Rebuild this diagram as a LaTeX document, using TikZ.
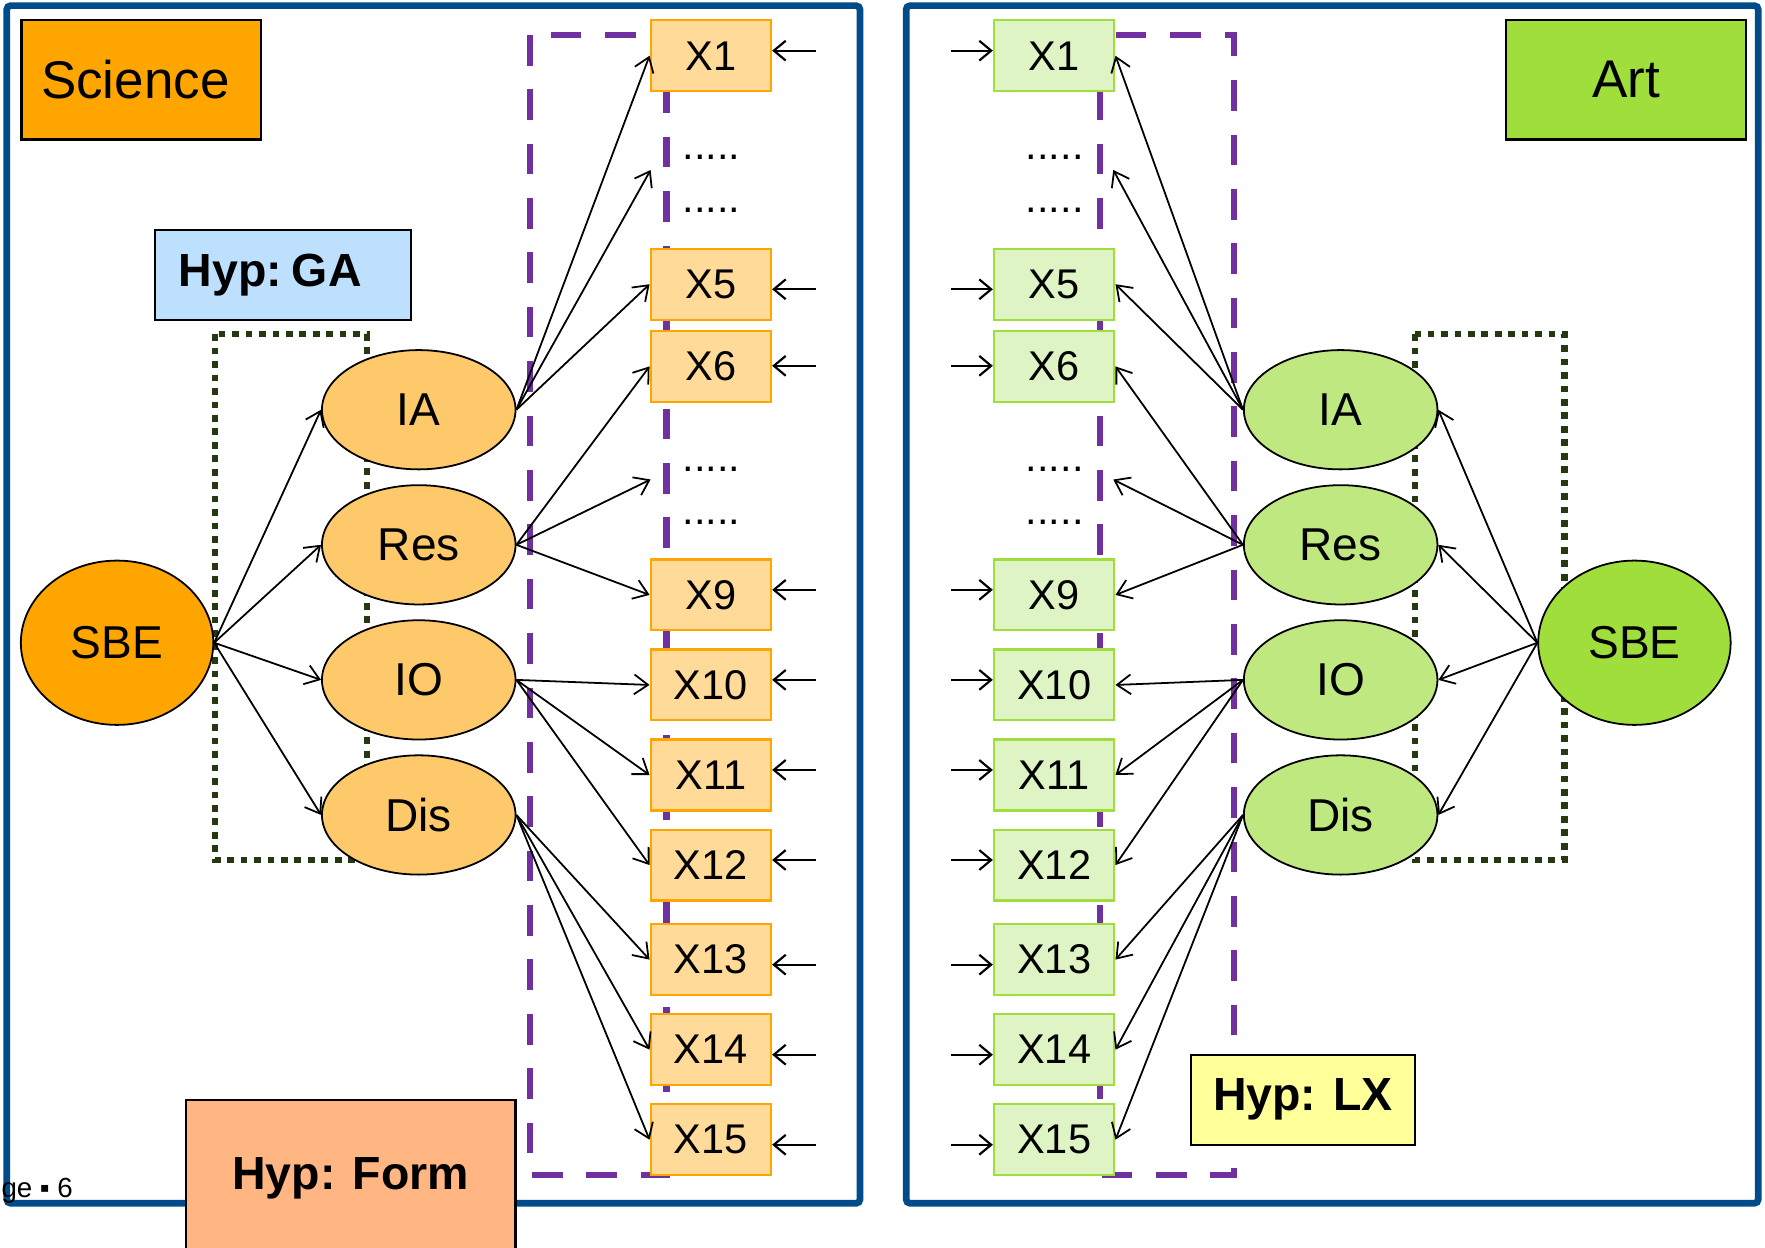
\documentclass[tikz,border=0pt]{standalone}
\usepackage{fontspec}
\setmainfont{Liberation Sans}
\usetikzlibrary{shapes.geometric,arrows.meta}
\definecolor{frameblue}{RGB}{0,76,138}
\definecolor{purp}{RGB}{112,48,160}
\definecolor{dgreen}{RGB}{38,56,18}
\definecolor{sciorange}{RGB}{255,165,0}
\definecolor{lorange}{RGB}{253,201,106}
\definecolor{xorange}{RGB}{255,218,152}
\definecolor{artgreen}{RGB}{160,222,60}
\definecolor{lgreen}{RGB}{192,232,128}
\definecolor{xgreen}{RGB}{222,244,196}
\definecolor{hypblue}{RGB}{189,224,254}
\definecolor{hypform}{RGB}{255,182,130}
\definecolor{hypyellow}{RGB}{255,255,153}
\newcommand\fsz[1]{\fontsize{#1}{#1}\selectfont}
\begin{document}
\begin{tikzpicture}[x=0.02cm,y=-0.02cm,
  frame/.style={draw=frameblue,line width=3.4pt,rounded corners=2pt},
  purpbox/.style={draw=purp,line width=3.2pt,dash pattern=on 15.5pt off 12pt},
  gdotbox/.style={draw=dgreen,line width=3.2pt,dash pattern=on 3.4pt off 3.4pt},
  ell/.style={ellipse,draw=black,line width=0.9pt,inner sep=0pt,minimum width=3.44cm,minimum height=2.12cm,font=\fsz{23.3}},
  bigell/.style={ellipse,draw=black,line width=0.9pt,inner sep=0pt,minimum width=3.42cm,minimum height=2.92cm,font=\fsz{23.3}},
  xbox/.style={rectangle,line width=1.1pt,inner sep=0pt,minimum width=2.14cm,minimum height=1.26cm,font=\fsz{21}},
  titlebox/.style={rectangle,draw=black,line width=1.2pt,inner sep=0pt,minimum width=4.26cm,minimum height=2.12cm,font=\fsz{26.8}},
  hypbox/.style={rectangle,draw=black,line width=1.1pt,inner sep=0pt,font=\fsz{23.5}\bfseries},
  conn/.style={line width=0.9pt,-{Straight Barb[length=7pt,width=10pt,line width=0.9pt]}},
  err/.style={line width=1.1pt,-{Straight Barb[length=6pt,width=10pt,line width=1.1pt]}},
  dots/.style={font=\fsz{21},anchor=base,inner sep=0pt}]
\useasboundingbox (0,0) rectangle (1568,1108);
\clip (0,0) rectangle (1568,1108);
\fill[white] (0,0) rectangle (1568,1108);
% frames
\draw[frame] (6,5) rectangle (764,1069);
\draw[frame] (805,5) rectangle (1562,1069);
% dashed / dotted groups
\draw[purpbox] (471,31) rectangle (592,1044);
\draw[purpbox] (977,31) rectangle (1096,1044);
\draw[gdotbox] (191,297) rectangle (326,764);
\draw[gdotbox] (1257,297) rectangle (1390,764);
% title boxes
\node[titlebox,fill=sciorange] (sci) at (125.5,71) {Science\kern6pt};
\node[titlebox,fill=artgreen] (art) at (1444.5,71) {Art};
\node[hypbox,fill=hypblue,minimum width=4.54cm,minimum height=1.6cm] (hga) at (251.5,244) {Hyp:\kern5pt GA\kern13pt};
\node[hypbox,fill=hypyellow,minimum width=3.98cm,minimum height=1.6cm] (hlx) at (1157.5,977) {Hyp: LX};
\node[hypbox,fill=hypform,minimum width=5.86cm,minimum height=2.8cm] (hform) at (311.5,1047) {Hyp: Form};
\node[font=\fsz{14},anchor=base west,inner sep=0pt] (page) at (1,1064) {ge ▪ 6};
% left ellipses
\node[bigell,fill=sciorange] (LSBE) at (104,571) {SBE};
\node[ell,fill=lorange] (LIA) at (372,364) {IA};
\node[ell,fill=lorange] (LRes) at (372,484) {Res};
\node[ell,fill=lorange] (LIO) at (372,604) {IO};
\node[ell,fill=lorange] (LDis) at (372,724) {Dis};
% right ellipses
\node[bigell,fill=artgreen] (RSBE) at (1452,571) {SBE};
\node[ell,fill=lgreen] (RIA) at (1191,364) {IA};
\node[ell,fill=lgreen] (RRes) at (1191,484) {Res};
\node[ell,fill=lgreen] (RIO) at (1191,604) {IO};
\node[ell,fill=lgreen] (RDis) at (1191,724) {Dis};
% indicator boxes and error arrows
\foreach \n/\y/\e in {1/49.5/45,5/252.5/257,6/325.5/325,9/528.5/524,10/608.5/604,11/688.5/684,12/768.5/764,13/852.5/857,14/932.5/937,15/1012.5/1017}{
  \node[xbox,draw=sciorange,fill=xorange] (LX\n) at (631.5,\y) {X\n};
  \node[xbox,draw=artgreen,fill=xgreen] (RX\n) at (936.5,\y) {X\n};
  \coordinate (LE\n) at (725,\e);
  \coordinate (RE\n) at (845,\e);
  \draw[err] (LE\n) -- (LX\n.east |- LE\n);
  \draw[err] (RE\n) -- (RX\n.west |- RE\n);
}
% dots
\foreach \k/\x/\y in {a/632/142,b/632/189,c/632/419,d/632/466,e/937/142,f/937/189,g/937/419,h/937/466}{
  \node[dots] (dot\k) at (\x,\y) {.....};
}
\coordinate (LD1) at (578,151);
\coordinate (LD2) at (578,426);
\coordinate (RD1) at (989,151);
\coordinate (RD2) at (989,426);
% left connectors
\foreach \t in {LIA,LRes,LIO,LDis}{ \draw[conn] (LSBE.east) -- (\t.west); }
\draw[conn] (LIA.east) -- (LX1.west);
\draw[conn] (LIA.east) -- (LD1);
\draw[conn] (LIA.east) -- (LX5.west);
\draw[conn] (LRes.east) -- (LX6.west);
\draw[conn] (LRes.east) -- (LD2);
\draw[conn] (LRes.east) -- (LX9.west);
\draw[conn] (LIO.east) -- (LX10.west);
\draw[conn] (LIO.east) -- (LX11.west);
\draw[conn] (LIO.east) -- (LX12.west);
\draw[conn] (LDis.east) -- (LX13.west);
\draw[conn] (LDis.east) -- (LX14.west);
\draw[conn] (LDis.east) -- (LX15.west);
% right connectors
\foreach \t in {RIA,RRes,RIO,RDis}{ \draw[conn] (RSBE.west) -- (\t.east); }
\draw[conn] (RIA.west) -- (RX1.east);
\draw[conn] (RIA.west) -- (RD1);
\draw[conn] (RIA.west) -- (RX5.east);
\draw[conn] (RRes.west) -- (RX6.east);
\draw[conn] (RRes.west) -- (RD2);
\draw[conn] (RRes.west) -- (RX9.east);
\draw[conn] (RIO.west) -- (RX10.east);
\draw[conn] (RIO.west) -- (RX11.east);
\draw[conn] (RIO.west) -- (RX12.east);
\draw[conn] (RDis.west) -- (RX13.east);
\draw[conn] (RDis.west) -- (RX14.east);
\draw[conn] (RDis.west) -- (RX15.east);
\end{tikzpicture}
\end{document}
